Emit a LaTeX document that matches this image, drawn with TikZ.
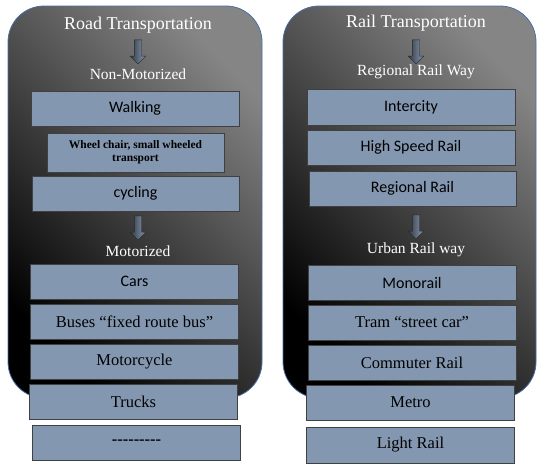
\documentclass[tikz,border=0pt]{standalone}
\usepackage{fontspec}
\setmainfont{Liberation Serif}
\newfontfamily\calibri{Carlito}
\usetikzlibrary{shapes.arrows}
\definecolor{slate}{HTML}{8497B0}
\definecolor{panelrim}{HTML}{4A6FA8}
\tikzset{
panel/.style={draw=panelrim,line width=0.8pt,rounded corners=36pt,top color=black!48,bottom color=black,shading angle=-45},
headline/.style={text=white,font=\fontsize{18}{20}\selectfont},
subline/.style={text=white,font=\fontsize{15.5}{18}\selectfont},
item/.style={draw=black!75,fill=slate,minimum width=208pt,minimum height=35pt,inner sep=0pt,font=\fontsize{16.5}{18}\selectfont},
sansitem/.style={item,font=\calibri\fontsize{16}{18}\selectfont},
downarrow/.style={single arrow,shape border rotate=270,draw=black!85,left color=slate!40!black,right color=slate,minimum height=24pt,inner sep=3.5pt,single arrow head extend=4pt}
}
\begin{document}
\begin{tikzpicture}[x=1pt,y=-1pt]
\useasboundingbox (0,0) rectangle (546,466);
\path[panel] (8,6) rectangle (262,398);
\path[panel] (283,6) rectangle (536,398);

% road side
\node[headline] (roadT) at (138,25) {Road Transportation};
\node[downarrow] (roadArr) at (138,50) {};
\node[subline] (nonMot) at (138,74) {Non-Motorized};
\node[sansitem] (walking) at (135,108.5) {Walking};
\node[item,minimum width=177pt,minimum height=39pt,align=center,font=\bfseries\fontsize{11.5}{13}\selectfont] (wheel) at (135.5,152.5) {Wheel chair, small wheeled\\transport};
\node[sansitem,minimum width=207pt] (cycling) at (135.5,193.5) {cycling};
\node[downarrow] (motArr) at (138,226) {};
\node[subline] (mot) at (138,251) {Motorized};
\node[sansitem] (cars) at (134.5,281.5) {Cars};
\node[item] (buses) at (134.5,321.5) {Buses “fixed route bus”};
\node[item] (motorcycle) at (134.5,361.5) {Motorcycle};
\node[item] (trucks) at (133.5,401.5) {Trucks};
\node[item] (more) at (136.5,442.5) {\textbf{-{}-{}-{}-{}-{}-{}-{}-{}-}};

% rail side
\node[headline] (railT) at (416,23) {Rail Transportation};
\node[downarrow] (railArr) at (416,50) {};
\node[subline] (regWay) at (416,72) {Regional Rail Way};
\node[sansitem,minimum height=36pt] (intercity) at (411,107) {Intercity};
\node[sansitem] (highspeed) at (411,147.5) {High Speed Rail};
\node[sansitem,minimum width=207pt] (regional) at (412.5,188.5) {Regional Rail};
\node[downarrow] (urbArr) at (416,225) {};
\node[subline] (urbWay) at (416,250) {Urban Rail way};
\node[sansitem] (monorail) at (412,282.5) {Monorail};
\node[item] (tram) at (412,322.5) {Tram “street car”};
\node[item] (commuter) at (412,362.5) {Commuter Rail};
\node[item] (metro) at (410.5,402.5) {Metro};
\node[item,minimum height=36pt] (light) at (410.5,445) {Light Rail};
\end{tikzpicture}
\end{document}
